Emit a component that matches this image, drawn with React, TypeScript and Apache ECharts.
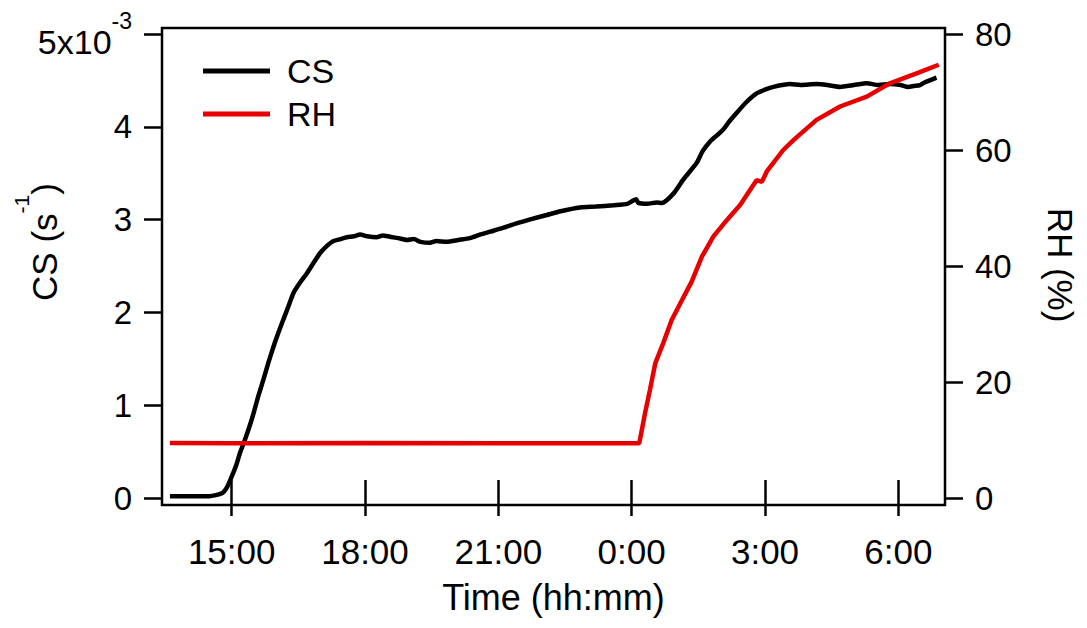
import React, { useEffect, useRef } from "react";
import * as echarts from "echarts";

// Time in hours since 00:00 of the first day (24 = 0:00 next day)
const csTime = [13.61, 14.0, 14.5, 14.78, 14.9, 15.0, 15.1, 15.19, 15.3, 15.4, 15.49, 15.6, 15.71, 15.82, 15.94, 16.05, 16.16, 16.28, 16.39, 16.55, 16.69, 16.85, 16.99, 17.15, 17.29, 17.45, 17.59, 17.75, 17.89, 18.05, 18.26, 18.4, 18.56, 18.75, 18.94, 19.1, 19.25, 19.46, 19.6, 19.84, 20.1, 20.36, 20.6, 20.89, 21.1, 21.41, 21.7, 22.09, 22.4, 22.84, 23.2, 23.59, 23.9, 24.1, 24.15, 24.35, 24.56, 24.68, 24.94, 25.16, 25.46, 25.6, 25.76, 25.9, 26.06, 26.2, 26.36, 26.59, 26.81, 27.0, 27.19, 27.56, 27.8, 28.16, 28.4, 28.69, 29.0, 29.29, 29.55, 29.81, 30.05, 30.22, 30.35, 30.49, 30.6, 30.86];
// CS in units of 1e-3 s^-1
const csValue = [0.02, 0.02, 0.02, 0.05, 0.12, 0.23, 0.35, 0.49, 0.63, 0.77, 0.91, 1.1, 1.27, 1.45, 1.63, 1.78, 1.92, 2.07, 2.21, 2.33, 2.42, 2.54, 2.64, 2.72, 2.77, 2.79, 2.81, 2.82, 2.84, 2.82, 2.81, 2.83, 2.815, 2.8, 2.78, 2.79, 2.76, 2.75, 2.77, 2.76, 2.78, 2.8, 2.84, 2.88, 2.91, 2.96, 3.0, 3.05, 3.09, 3.13, 3.14, 3.155, 3.17, 3.22, 3.18, 3.17, 3.185, 3.18, 3.28, 3.43, 3.61, 3.74, 3.84, 3.9, 3.97, 4.06, 4.15, 4.27, 4.36, 4.4, 4.43, 4.46, 4.45, 4.46, 4.45, 4.43, 4.45, 4.47, 4.45, 4.46, 4.45, 4.43, 4.44, 4.45, 4.48, 4.53];

const rhTime = [13.61, 15.0, 18.0, 21.0, 24.17, 24.3, 24.41, 24.53, 24.71, 24.9, 25.13, 25.35, 25.58, 25.84, 26.14, 26.44, 26.81, 26.93, 27.04, 27.41, 27.64, 28.16, 28.69, 29.29, 29.81, 30.41, 30.91];
const rhValue = [9.5, 9.45, 9.5, 9.45, 9.43, 14.6, 18.6, 23.2, 26.7, 30.7, 34.1, 37.3, 41.6, 45.1, 47.9, 50.5, 54.8, 54.5, 56.3, 60.0, 61.7, 65.2, 67.5, 69.2, 71.5, 73.2, 74.7];

const tickHours = [15, 18, 21, 24, 27, 30];
const seriesNames = ["CS", "RH"];
const xTitle = "Time (hh:mm)";

const FONT = '"Liberation Sans", Arial, sans-serif';
const X_MIN = 13.432;
const X_MAX = 31.05;

export default function App() {
  const ref = useRef<HTMLDivElement>(null);
  useEffect(() => {
    if (!ref.current) return;
    const chart = echarts.init(ref.current, null, { renderer: "svg" });
    const tickStyle = { color: "#000", width: 2.5 };
    const fmtHour = (v: number) => `${Math.round(v) % 24}:00`;
    chart.setOption({
      animation: false,
      backgroundColor: "#fff",
      grid: { left: 162, right: 142, top: 34, bottom: 130, containLabel: false },
      legend: {
        orient: "vertical",
        left: 198,
        top: 49,
        itemWidth: 67,
        itemHeight: 5,
        itemGap: 9,
        icon: "rect",
        data: seriesNames,
        textStyle: { fontSize: 34, fontFamily: FONT, color: "#000", padding: [0, 0, 0, 12] },
      },
      xAxis: [
        {
          type: "value",
          position: "bottom",
          min: X_MIN,
          max: X_MAX,
          offset: 7,
          axisLine: { show: false },
          splitLine: { show: false },
          axisTick: { show: true, customValues: tickHours, length: 18, lineStyle: tickStyle },
          axisLabel: { customValues: tickHours, formatter: fmtHour, fontSize: 35, fontFamily: FONT, color: "#000", margin: 29 },
          name: xTitle,
          nameLocation: "middle",
          nameGap: 74,
          nameTextStyle: { fontSize: 36, fontFamily: FONT, color: "#000" },
        },
        {
          type: "value",
          position: "top",
          min: X_MIN,
          max: X_MAX,
          offset: 6,
          axisLine: { show: false },
          splitLine: { show: false },
          axisTick: { show: true, customValues: tickHours, length: 18, lineStyle: tickStyle },
          axisLabel: { show: false },
        },
      ],
      yAxis: [
        {
          type: "value",
          position: "left",
          min: 0,
          max: 5,
          interval: 1,
          axisLine: { show: false },
          splitLine: { show: false },
          axisTick: { show: true, length: 18, lineStyle: tickStyle },
          axisLabel: {
            margin: 30,
            fontSize: 33,
            fontFamily: FONT,
            color: "#000",
            formatter: (v: number) => (v === 5 ? "{b|5x10}{s|-3}" : String(v)),
            rich: {
              b: { fontSize: 34, fontFamily: FONT, color: "#000", verticalAlign: "bottom", padding: [15, 0, 0, 0] },
              s: { fontSize: 23, fontFamily: FONT, color: "#000", verticalAlign: "top" },
            },
          },
        },
        {
          type: "value",
          position: "right",
          min: 0,
          max: 80,
          interval: 20,
          axisLine: { show: false },
          splitLine: { show: false },
          axisTick: { show: true, length: 18, lineStyle: tickStyle },
          axisLabel: { margin: 30, fontSize: 33, fontFamily: FONT, color: "#000" },
        },
      ],
      graphic: [
        {
          type: "rect",
          shape: { x: 162, y: 28, width: 783, height: 477 },
          style: { fill: "none", stroke: "#000", lineWidth: 2.5 },
          z: 100,
          silent: true,
        },
        {
          type: "text",
          x: 36,
          y: 242,
          rotation: Math.PI / 2,
          style: {
            text: "{m|CS (s}{s|-1}{m|)}",
            align: "center",
            verticalAlign: "middle",
            rich: {
              m: { fontSize: 35, fontFamily: FONT, fill: "#000", verticalAlign: "bottom", padding: [16, 0, 0, 0] },
              s: { fontSize: 21, fontFamily: FONT, fill: "#000", verticalAlign: "top" },
            },
          },
        },
        {
          type: "text",
          x: 1060,
          y: 265,
          rotation: -Math.PI / 2,
          style: { text: "RH (%)", fontSize: 35, fontFamily: FONT, fill: "#000", align: "center", verticalAlign: "middle" },
        },
      ],
      series: [
        {
          name: seriesNames[0],
          type: "line",
          xAxisIndex: 0,
          yAxisIndex: 0,
          showSymbol: false,
          symbol: "none",
          smooth: 0.2,
          color: "#000",
          lineStyle: { color: "#000", width: 4.5 },
          data: csTime.map((t, i) => [t, csValue[i]]),
        },
        {
          name: seriesNames[1],
          type: "line",
          xAxisIndex: 0,
          yAxisIndex: 1,
          showSymbol: false,
          symbol: "none",
          color: "#e60000",
          lineStyle: { color: "#e60000", width: 4.5 },
          data: rhTime.map((t, i) => [t, rhValue[i]]),
        },
      ],
    });
    return () => chart.dispose();
  }, []);
  return <div ref={ref} style={{ position: "fixed", left: 0, top: 0, width: 1087, height: 628 }} />;
}
